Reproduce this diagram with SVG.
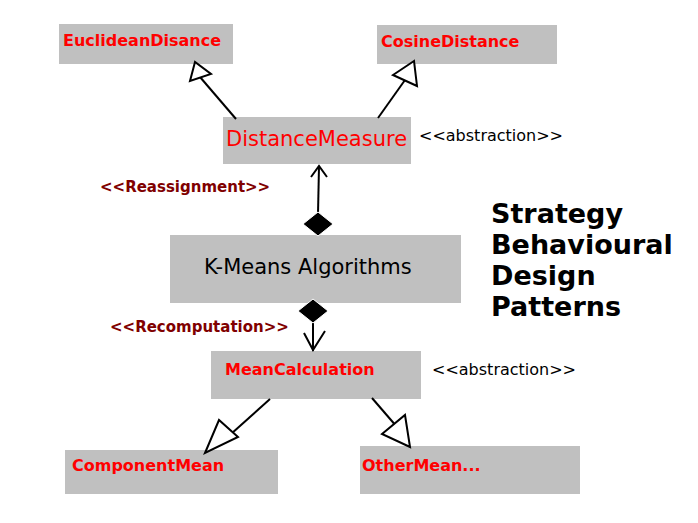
<svg xmlns="http://www.w3.org/2000/svg" width="698" height="523" viewBox="0 0 698 523">
<style>
.box{fill:#c0c0c0;}
.nb{font-family:"DejaVu Sans",sans-serif;font-weight:bold;font-size:16px;fill:#ff0000;}
.nn{font-family:"DejaVu Sans",sans-serif;font-size:21px;}
.st{font-family:"DejaVu Sans",sans-serif;font-weight:bold;font-size:15px;fill:#800000;}
.ab{font-family:"DejaVu Sans",sans-serif;font-size:16px;fill:#000;}
.ti{font-family:"DejaVu Sans",sans-serif;font-weight:bold;font-size:27px;fill:#000;}
.ln{stroke:#000;stroke-width:2;fill:none;}
.tri{stroke:#000;stroke-width:2;fill:#fff;stroke-linejoin:miter;}
.dia{fill:#000;stroke:#fff;stroke-width:1;}
</style>
<rect width="698" height="523" fill="#fff"/>
<g id="euclidean"><rect class="box" x="59" y="24" width="174" height="40"/><text class="nb" x="63" y="46">EuclideanDisance</text></g>
<g id="cosine"><rect class="box" x="377" y="25" width="180" height="39"/><text class="nb" x="381" y="47">CosineDistance</text></g>
<g id="distancemeasure"><rect class="box" x="223" y="117" width="188" height="47"/><text class="nn" x="226" y="146" fill="#ff0000">DistanceMeasure</text></g>
<g id="kmeans"><rect class="box" x="170" y="235" width="291" height="68"/><text class="nn" x="204" y="274" fill="#000">K-Means Algorithms</text></g>
<g id="meancalculation"><rect class="box" x="211" y="351" width="210" height="48"/><text class="nb" x="225" y="375">MeanCalculation</text></g>
<g id="componentmean"><rect class="box" x="65" y="450" width="213" height="44"/><text class="nb" x="72" y="471">ComponentMean</text></g>
<g id="othermean"><rect class="box" x="360" y="446" width="220" height="48"/><text class="nb" x="362" y="471">OtherMean...</text></g>
<g id="labels">
<text class="ab" x="419" y="141">&lt;&lt;abstraction&gt;&gt;</text>
<text class="ab" x="432" y="375">&lt;&lt;abstraction&gt;&gt;</text>
<text class="st" x="100" y="192">&lt;&lt;Reassignment&gt;&gt;</text>
<text class="st" x="110" y="332">&lt;&lt;Recomputation&gt;&gt;</text>
<text class="ti" x="491" y="223">Strategy</text>
<text class="ti" x="491" y="254">Behavioural</text>
<text class="ti" x="491" y="285">Design</text>
<text class="ti" x="491" y="316">Patterns</text>
</g>
<g id="connectors">
<line class="ln" x1="236" y1="119" x2="200" y2="77"/>
<polygon class="tri" points="195,62 190,81 211,74"/>
<line class="ln" x1="378" y1="118" x2="405" y2="80"/>
<polygon class="tri" points="414,61 393,75 417,86"/>
<line class="ln" x1="318" y1="214" x2="319" y2="166"/>
<polyline class="ln" points="311,177 319,166 327,177"/>
<polygon class="dia" points="318,212 333,224 318,236 303,224"/>
<line class="ln" x1="313" y1="320" x2="313" y2="351"/>
<polyline class="ln" points="304,333 313,350 325,331"/>
<polygon class="dia" points="313,299 328,311 313,323 298,311"/>
<line class="ln" x1="270" y1="399" x2="231" y2="434"/>
<polygon class="tri" points="205,453 219,420 238,437"/>
<line class="ln" x1="372" y1="398" x2="397" y2="427"/>
<polygon class="tri" points="410,447 405,415 382,434"/>
</g>
</svg>
